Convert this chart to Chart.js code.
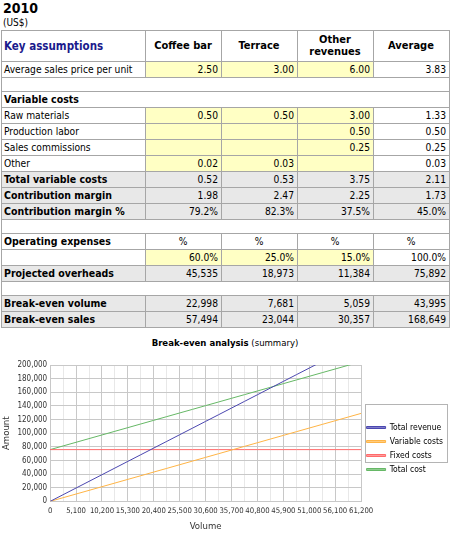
<!DOCTYPE html>
<html>
<head>
<meta charset="utf-8">
<script src="https://cdn.jsdelivr.net/npm/chart.js@4.4.0/dist/chart.umd.min.js"></script>
<style>
  body { margin: 0; background: #fff; font-family: "DejaVu Sans Condensed", "DejaVu Sans", sans-serif; color: #000; }
  #year { position: absolute; left: 3px; top: 0px; font-weight: bold; font-size: 14px; }
  #unit { position: absolute; left: 3px; top: 17px; font-size: 10px; }
  #tbl { position: absolute; left: 1px; top: 30px; width: 448px; border-collapse: collapse; table-layout: fixed; font-size: 10.2px; }
  #tbl td { border: 1px solid #a6a6a6; height: 15px; line-height: 13px; padding: 0 3px 0 2px; white-space: nowrap; overflow: hidden; }
  #tbl td.n { text-align: right; }
  #tbl td.c { text-align: center; }
  #tbl tr.head td { height: 30px; font-weight: bold; text-align: center; white-space: normal; line-height: 12px; font-size: 11px; }
  #tbl tr.head td.k { text-align: left; color: #1a1a8c; font-size: 11.5px; }
  #tbl tr.gap td { height: 13px; }
  #tbl tr.tot td { background: #e8e8e8; }
  #tbl tr.tot td.l, #tbl td.b { font-weight: bold; font-size: 10.5px; }
  #tbl td.y { background: #ffffc4; }
  #ctitle { position: absolute; left: 0; top: 337px; width: 450px; text-align: center; font-size: 9.5px; }
  #box { position: absolute; left: 0; top: 350px; width: 450px; height: 186px; }
</style>
</head>
<body>
<div id="year">2010</div>
<div id="unit">(US$)</div>
<table id="tbl">
  <colgroup><col style="width:144px"><col style="width:76px"><col style="width:76px"><col style="width:76px"><col style="width:76px"></colgroup>
  <tbody id="tbody"></tbody>
</table>
<div id="ctitle"><b>Break-even analysis</b> (summary)</div>
<div id="box"><canvas id="myChart"></canvas></div>
<script>
// table content
const columns = ['Coffee bar', 'Terrace', 'Other revenues', 'Average'];
const salesPrice = ['2.50', '3.00', '6.00', '3.83'];
const rawMaterials = ['0.50', '0.50', '3.00', '1.33'];
const productionLabor = ['', '', '0.50', '0.50'];
const salesCommissions = ['', '', '0.25', '0.25'];
const otherCosts = ['0.02', '0.03', '', '0.03'];
const totalVariable = ['0.52', '0.53', '3.75', '2.11'];
const contribMargin = ['1.98', '2.47', '2.25', '1.73'];
const contribPct = ['79.2%', '82.3%', '37.5%', '45.0%'];
const expenseShare = ['60.0%', '25.0%', '15.0%', '100.0%'];
const overheads = ['45,535', '18,973', '11,384', '75,892'];
const breakEvenVolume = ['22,998', '7,681', '5,059', '43,995'];
const breakEvenSales = ['57,494', '23,044', '30,357', '168,649'];

// chart data
const volumes = [0, 2550, 5100, 7650, 10200, 12750, 15300, 17850, 20400, 22950, 25500, 28050, 30600,
  33150, 35700, 38250, 40800, 43350, 45900, 48450, 51000, 53550, 56100, 58650, 61200];
const totalRevenue = [0, 9775, 19550, 29325, 39100, 48875, 58650, 68425, 78200, 87975, 97750, 107525, 117300,
  127075, 136850, 146625, 156400, 166175, 175950, 185725, 195500, 205275, 215050, 224825, 234600];
const variableCosts = [0, 5375, 10751, 16126, 21502, 26877, 32252, 37628, 43003, 48379, 53754, 59129, 64505,
  69880, 75256, 80631, 86006, 91382, 96757, 102133, 107508, 112883, 118259, 123634, 129010];
const fixedCosts = [75892, 75892, 75892, 75892, 75892, 75892, 75892, 75892, 75892, 75892, 75892, 75892, 75892,
  75892, 75892, 75892, 75892, 75892, 75892, 75892, 75892, 75892, 75892, 75892, 75892];
const totalCost = [75892, 81267, 86643, 92018, 97394, 102769, 108144, 113520, 118895, 124271, 129646, 135021, 140397,
  145772, 151148, 156523, 161898, 167274, 172649, 178025, 183400, 188775, 194151, 199526, 204902];

function row(label, vals, opts) {
  opts = opts || {};
  let cls = opts.tot ? ' class="tot"' : '';
  let html = '<tr' + cls + '><td class="l' + (opts.bold ? ' b' : '') + '">' + label + '</td>';
  vals.forEach(function (v, i) {
    let c = opts.center ? 'c' : 'n';
    if (opts.yellow && opts.yellow[i]) c += ' y';
    html += '<td class="' + c + '">' + v + '</td>';
  });
  return html + '</tr>';
}
const inputMask = [true, true, true, false];
let h = '<tr class="head"><td class="k">Key assumptions</td>';
columns.forEach(function (c) { h += '<td>' + (c == 'Other revenues' ? 'Other<br>revenues' : c) + '</td>'; });
h += '</tr>';
h += row('Average sales price per unit', salesPrice, {yellow: inputMask});
h += '<tr class="gap"><td colspan="5"></td></tr>';
h += '<tr><td colspan="5" class="b">Variable costs</td></tr>';
h += row('Raw materials', rawMaterials, {yellow: inputMask});
h += row('Production labor', productionLabor, {yellow: inputMask});
h += row('Sales commissions', salesCommissions, {yellow: inputMask});
h += row('Other', otherCosts, {yellow: inputMask});
h += row('Total variable costs', totalVariable, {tot: true});
h += row('Contribution margin', contribMargin, {tot: true});
h += row('Contribution margin %', contribPct, {tot: true});
h += '<tr class="gap"><td colspan="5"></td></tr>';
h += row('Operating expenses', ['%', '%', '%', '%'], {bold: true, center: true});
h += row('', expenseShare, {yellow: inputMask});
h += row('Projected overheads', overheads, {tot: true});
h += '<tr class="gap"><td colspan="5"></td></tr>';
h += row('Break-even volume', breakEvenVolume, {tot: true});
h += row('Break-even sales', breakEvenSales, {tot: true});
document.getElementById('tbody').innerHTML = h;

const fmt = function (n) { return Number(n).toLocaleString('en-US'); };

// frame around the legend, like the spreadsheet chart
const legendBox = {
  id: 'legendBox',
  afterDraw: function (chart) {
    const area = chart.chartArea;
    const n = chart.data.datasets.length;
    const step = 14.5;
    const mid = (area.top + area.bottom) / 2;
    const x1 = Math.round(area.right + 4) + 0.5;
    const x2 = Math.round(chart.width - 3) + 0.5;
    const y1 = Math.round(mid - n * step / 2) + 0.5;
    const y2 = Math.round(mid + n * step / 2) + 0.5;
    const ctx = chart.ctx;
    ctx.save();
    ctx.strokeStyle = '#b4b4b4';
    ctx.lineWidth = 1;
    ctx.strokeRect(x1, y1, x2 - x1, y2 - y1);
    ctx.restore();
  }
};

const data = {
  labels: volumes,
  datasets: [
    {label: 'Total revenue', data: totalRevenue, borderColor: '#4b47b0', backgroundColor: '#7f7cc8'},
    {label: 'Variable costs', data: variableCosts, borderColor: '#ffb445', backgroundColor: '#ffcc80'},
    {label: 'Fixed costs', data: fixedCosts, borderColor: '#ff6b6b', backgroundColor: '#ff9a9a'},
    {label: 'Total cost', data: totalCost, borderColor: '#66b866', backgroundColor: '#8fcc8f'}
  ]
};

const config = {
  type: 'line',
  data: data,
  plugins: [legendBox],
  options: {
    animation: false,
    responsive: true,
    maintainAspectRatio: false,
    layout: {padding: {top: 15, right: -3, bottom: 4, left: 1}},
    elements: {
      point: {radius: 0},
      line: {borderWidth: 1, tension: 0}
    },
    plugins: {
      legend: {
        position: 'right',
        labels: {
          boxWidth: 19, boxHeight: 2, padding: 5.5,
          color: '#000', font: {family: 'DejaVu Sans Condensed', size: 8.5}
        }
      },
      tooltip: {enabled: false}
    },
    scales: {
      x: {
        grid: {
          color: function (ctx) { return ctx.index % 2 ? '#e8e8e8' : '#c8c8c8'; },
          drawTicks: false
        },
        border: {color: '#c8c8c8'},
        ticks: {
          autoSkip: false, maxRotation: 0, padding: 5,
          color: '#333', font: {family: 'DejaVu Sans Condensed', size: 7.7},
          callback: function (v, i) { return i % 2 ? '' : fmt(this.getLabelForValue(v)); }
        },
        title: {display: true, text: 'Volume', color: '#333', padding: {top: 0, bottom: 0},
          font: {family: 'DejaVu Sans Condensed', size: 9.5}}
      },
      y: {
        min: 0, max: 200000,
        grid: {
          color: function (ctx) { return ctx.tick && ctx.tick.value % 20000 ? '#e8e8e8' : '#c8c8c8'; },
          drawTicks: false
        },
        border: {color: '#c8c8c8'},
        ticks: {
          stepSize: 10000, padding: 3,
          color: '#333', font: {family: 'DejaVu Sans Condensed', size: 8},
          callback: function (v) { return v % 20000 ? '' : fmt(v); }
        },
        title: {display: true, text: 'Amount', color: '#333', padding: {top: 0, bottom: 2},
          font: {family: 'DejaVu Sans Condensed', size: 9.5}}
      }
    }
  }
};

const myChart = new Chart(document.getElementById('myChart'), config);
</script>
</body>
</html>
